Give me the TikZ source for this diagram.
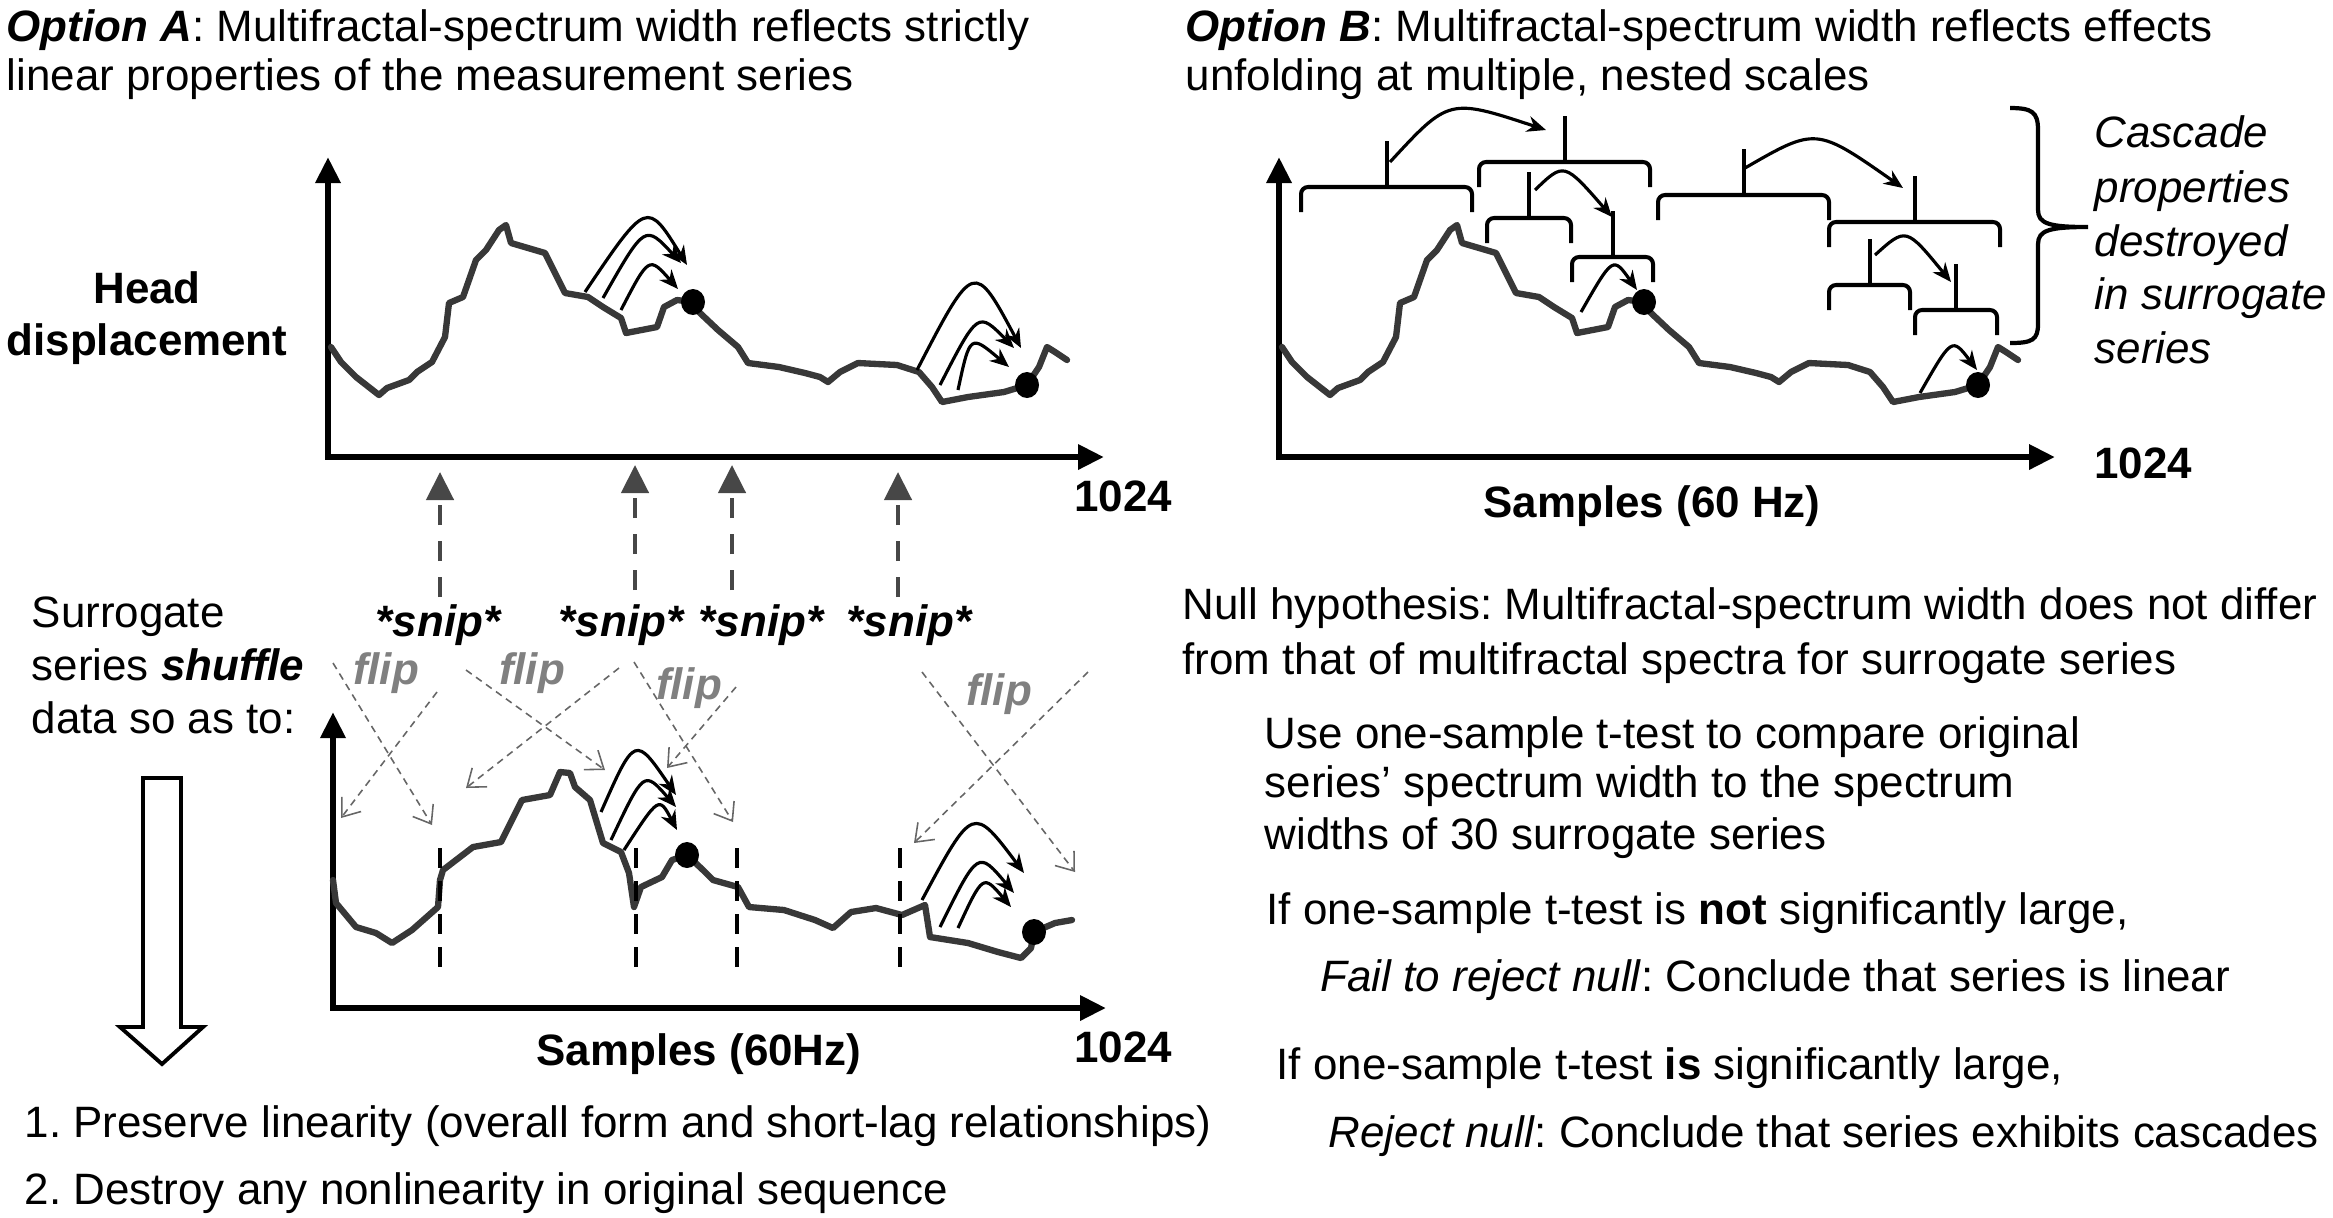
\documentclass[tikz,border=0pt]{standalone}
\usepackage{fontspec}
\setmainfont{Liberation Sans}
\usetikzlibrary{arrows.meta}
\frenchspacing

\tikzset{
	axis/.style={line width=1.8pt,{Triangle[length=0.26cm,width=0.24cm]}-{Triangle[length=0.26cm,width=0.24cm]}},
	series/.style={draw=black!78,line width=1.8pt,line join=round,line cap=round},
	hop/.style={line width=0.9pt,-{Stealth[length=0.19cm,width=0.16cm]}},
	cut/.style={draw=black!72,line width=1.3pt,dash pattern=on 0.2cm off 0.16cm,-{Triangle[length=0.28cm,width=0.27cm]}},
	cutline/.style={line width=1.2pt,dash pattern=on 0.2cm off 0.13cm},
	fliparrow/.style={draw=black!60,line width=0.45pt,dash pattern=on 2pt off 1.5pt,-{Straight Barb[length=0.16cm,width=0.24cm]}},
	fliplabel/.style={text=black!50,font=\fontsize{12.5}{15}\selectfont\bfseries\itshape},
	cbar/.style={line width=1.15pt,rounded corners=2pt},
	txt/.style={anchor=base west},
}

% one bracket of the cascade: x1, x2, bar
\newcommand{\cascbr}[3]{%
	\draw[cbar] (#1,#3+0.25) -- (#1,#3) -- (#2,#3) -- (#2,#3+0.25);
	\draw[line width=1.15pt] ({(#1+#2)/2},#3) -- ({(#1+#2)/2},#3-0.46);
}

% axes and head displacement series (top panels)
\newcommand{\headchart}{%
	\draw[axis] (3.28,1.57) -- (3.28,4.57) -- (11.04,4.57);
	\draw[series] (3.31,3.47) -- (3.41,3.62) -- (3.56,3.77) -- (3.79,3.95) -- (3.87,3.88)
		-- (4.09,3.80) -- (4.17,3.72) -- (4.32,3.62) -- (4.45,3.37) -- (4.49,3.03) -- (4.63,2.97)
		-- (4.76,2.60) -- (4.86,2.50) -- (4.99,2.30) -- (5.06,2.25) -- (5.11,2.43) -- (5.45,2.53)
		-- (5.65,2.93) -- (5.88,2.97) -- (6.03,3.07) -- (6.21,3.18) -- (6.26,3.33) -- (6.57,3.27)
		-- (6.64,3.07) -- (6.77,3.00) -- (6.93,3.02) -- (7.00,3.13) -- (7.18,3.30) -- (7.38,3.47)
		-- (7.48,3.63) -- (7.79,3.67) -- (8.05,3.73) -- (8.20,3.77) -- (8.28,3.82) -- (8.40,3.72)
		-- (8.58,3.63) -- (8.97,3.65) -- (9.19,3.72) -- (9.32,3.87) -- (9.42,4.02) -- (9.68,3.97)
		-- (10.04,3.92) -- (10.27,3.85) -- (10.39,3.67) -- (10.47,3.47) -- (10.55,3.52) -- (10.67,3.60);
	\fill (6.93,3.02) ellipse[x radius=0.12,y radius=0.13];
	\fill (10.27,3.85) ellipse[x radius=0.12,y radius=0.13];
}

\begin{document}
\begin{tikzpicture}[x=1cm,y=-1cm,every node/.style={inner sep=0pt,font=\fontsize{12.5}{15}\selectfont}]
	\useasboundingbox (0,0) rectangle (23.33,12.17);
	% Titles
	\node[txt] (titleA1) at (0.06,0.41) {\textbf{\textit{Option A}}: Multifractal-spectrum width reflects strictly};
	\node[txt] (titleA2) at (0.06,0.90) {linear properties of the measurement series};
	\node[txt] (titleB1) at (11.85,0.41) {\textbf{\textit{Option B}}: Multifractal-spectrum width reflects effects};
	\node[txt] (titleB2) at (11.85,0.90) {unfolding at multiple, nested scales};

	% Option A: original series
	\headchart
	\draw[hop] (5.85,2.92) .. controls (6.47,2.00) .. (6.87,2.65);
	\draw[hop] (6.03,2.98) .. controls (6.45,2.24) .. (6.81,2.63);
	\draw[hop] (6.21,3.10) .. controls (6.49,2.56) .. (6.78,2.89);
	\draw[hop] (9.17,3.70) .. controls (9.74,2.60) .. (10.21,3.48);
	\draw[hop] (9.40,3.85) .. controls (9.78,3.11) .. (10.14,3.48);
	\draw[hop] (9.58,3.90) .. controls (9.70,3.34) .. (10.09,3.67);
	\node[anchor=base,font=\fontsize{12.5}{15}\selectfont\bfseries] (head) at (1.47,3.03) {Head};
	\node[anchor=base,font=\fontsize{12.5}{15}\selectfont\bfseries] (displ) at (1.47,3.55) {displacement};
	\node[anchor=base,font=\fontsize{12.5}{15}\selectfont\bfseries] (endA) at (11.23,5.11) {1024};

	% Option B: same series, nested scales
	\begin{scope}[xshift=9.51cm]
		\headchart
	\end{scope}
	\cascbr{13.01}{14.72}{1.87}
	\cascbr{14.79}{16.50}{1.62}
	\cascbr{14.87}{15.71}{2.18}
	\cascbr{15.72}{16.53}{2.57}
	\cascbr{16.58}{18.29}{1.95}
	\cascbr{18.29}{20.00}{2.22}
	\cascbr{18.29}{19.10}{2.85}
	\cascbr{19.15}{19.97}{3.10}
	\draw[hop] (13.90,1.62) .. controls (14.49,0.98) .. (15.46,1.30);
	\draw[hop] (15.35,1.90) .. controls (15.64,1.62) .. (16.12,2.17);
	\draw[hop] (15.81,3.12) .. controls (16.13,2.56) .. (16.37,2.90);
	\draw[hop] (17.45,1.68) .. controls (18.16,1.27) .. (19.03,1.88);
	\draw[hop] (18.75,2.55) .. controls (19.06,2.27) .. (19.51,2.82);
	\draw[hop] (19.20,3.93) .. controls (19.52,3.37) .. (19.77,3.70);
	\draw[line width=1.2pt] (20.10,1.08) .. controls (20.32,1.08) and (20.38,1.12) .. (20.38,1.30)
		-- (20.38,2.10) .. controls (20.38,2.24) and (20.50,2.27) .. (20.88,2.27)
		.. controls (20.50,2.27) and (20.38,2.30) .. (20.38,2.44)
		-- (20.38,3.24) .. controls (20.38,3.40) and (20.32,3.43) .. (20.10,3.43);
	\foreach \t/\y [count=\i] in {Cascade/1.47,properties/2.02,destroyed/2.56,in surrogate/3.09,series/3.63}
		\node[txt,font=\fontsize{12.5}{15}\selectfont\itshape] (casc\i) at (20.94,\y) {\t};
	\node[anchor=base,font=\fontsize{12.5}{15}\selectfont\bfseries] (endB) at (21.43,4.78) {1024};
	\node[anchor=base,font=\fontsize{12.5}{15}\selectfont\bfseries] (sampB) at (16.52,5.17) {Samples (60 Hz)};

	% Snips
	\foreach \x/\y in {4.40/4.72,6.35/4.65,7.32/4.65,8.98/4.72}
		\draw[cut] (\x,\y+1.25) -- (\x,\y);
	\foreach \x [count=\i] in {4.38,6.21,7.61,9.09}
		\node[anchor=base,font=\fontsize{12.5}{15}\selectfont\bfseries\itshape] (snip\i) at (\x,6.36) {*snip*};

	% Surrogate series
	\node[txt] (surr1) at (0.31,6.27) {Surrogate};
	\node[txt] (surr2) at (0.31,6.80) {series \textbf{\textit{shuffle}}};
	\node[txt] (surr3) at (0.31,7.33) {data so as to:};
	\draw[line width=1.1pt] (1.43,7.78) -- (1.81,7.78) -- (1.81,10.27) -- (2.03,10.27) -- (1.62,10.64)
		-- (1.20,10.27) -- (1.43,10.27) -- cycle;
	\foreach \x/\y [count=\i] in {3.86/6.73,5.32/6.73,6.89/6.88,9.99/6.94}
		\node[fliplabel] (flip\i) at (\x,\y) {flip};
	\draw[fliparrow] (3.33,6.63) -- (4.32,8.25);
	\draw[fliparrow] (4.37,6.92) -- (3.41,8.18);
	\draw[fliparrow] (4.66,6.70) -- (6.05,7.70);
	\draw[fliparrow] (6.19,6.68) -- (4.66,7.88);
	\draw[fliparrow] (6.34,6.62) -- (7.33,8.22);
	\draw[fliparrow] (7.36,6.87) -- (6.67,7.68);
	\draw[fliparrow] (9.22,6.72) -- (10.75,8.72);
	\draw[fliparrow] (10.88,6.72) -- (9.14,8.43);
	\draw[axis] (3.33,7.12) -- (3.33,10.08) -- (11.06,10.08);
	\draw[series] (3.33,8.80) -- (3.36,9.03) -- (3.56,9.27) -- (3.76,9.33) -- (3.92,9.43) -- (4.12,9.30)
		-- (4.38,9.07) -- (4.40,8.80) -- (4.43,8.70) -- (4.73,8.47) -- (5.01,8.42) -- (5.22,8.00)
		-- (5.50,7.95) -- (5.60,7.72) -- (5.70,7.73) -- (5.75,7.87) -- (5.90,8.00) -- (6.03,8.43)
		-- (6.21,8.52) -- (6.29,8.73) -- (6.34,9.07) -- (6.41,8.87) -- (6.62,8.77) -- (6.72,8.60)
		-- (6.87,8.55) -- (7.03,8.70) -- (7.13,8.80) -- (7.38,8.87) -- (7.49,9.07) -- (7.84,9.10)
		-- (8.15,9.20) -- (8.33,9.28) -- (8.51,9.12) -- (8.76,9.08) -- (9.02,9.15) -- (9.25,9.05)
		-- (9.30,9.37) -- (9.68,9.43) -- (9.98,9.52) -- (10.21,9.58) -- (10.31,9.48) -- (10.34,9.32)
		-- (10.55,9.23) -- (10.72,9.20);
	\foreach \x in {4.40,6.36,7.37,9.00}
		\draw[cutline] (\x,8.48) -- (\x,9.78);
	\draw[hop] (6.01,8.12) .. controls (6.35,7.35) .. (6.76,7.95);
	\draw[hop] (6.11,8.40) .. controls (6.44,7.70) .. (6.76,8.07);
	\draw[hop] (6.24,8.50) .. controls (6.59,7.96) .. (6.77,8.30);
	\draw[hop] (9.22,9.00) .. controls (9.73,8.05) .. (10.24,8.73);
	\draw[hop] (9.40,9.27) .. controls (9.78,8.50) .. (10.14,8.93);
	\draw[hop] (9.58,9.28) .. controls (9.83,8.74) .. (10.11,9.07);
	% Point(s)
	\fill (6.87,8.55) ellipse[x radius=0.12,y radius=0.13];
	\fill (10.34,9.32) ellipse[x radius=0.12,y radius=0.13];
	\node[anchor=base,font=\fontsize{12.5}{15}\selectfont\bfseries] (sampC) at (6.99,10.65) {Samples (60Hz)};
	\node[anchor=base,font=\fontsize{12.5}{15}\selectfont\bfseries] (endC) at (11.23,10.62) {1024};
	\node[txt] (goal1) at (0.24,11.37) {1. Preserve linearity (overall form and short-lag relationships)};
	\node[txt] (goal2) at (0.24,12.04) {2. Destroy any nonlinearity in original sequence};

	% Null hypothesis and test
	\node[txt] (null1) at (11.82,6.19) {Null hypothesis: Multifractal-spectrum width does not differ};
	\node[txt] (null2) at (11.82,6.74) {from that of multifractal spectra for surrogate series};
	\node[txt] (test1) at (12.64,7.48) {Use one-sample t-test to compare original};
	\node[txt] (test2) at (12.64,7.97) {series’ spectrum width to the spectrum};
	\node[txt] (test3) at (12.64,8.49) {widths of 30 surrogate series};
	\node[txt] (ifnot) at (12.66,9.24) {If one-sample t-test is \textbf{not} significantly large,};
	\node[txt] (fail) at (13.20,9.91) {\textit{Fail to reject null}: Conclude that series is linear};
	\node[txt] (ifis) at (12.76,10.79) {If one-sample t-test \textbf{is} significantly large,};
	\node[txt] (reject) at (13.28,11.47) {\textit{Reject null}: Conclude that series exhibits cascades};
\end{tikzpicture}
\end{document}
